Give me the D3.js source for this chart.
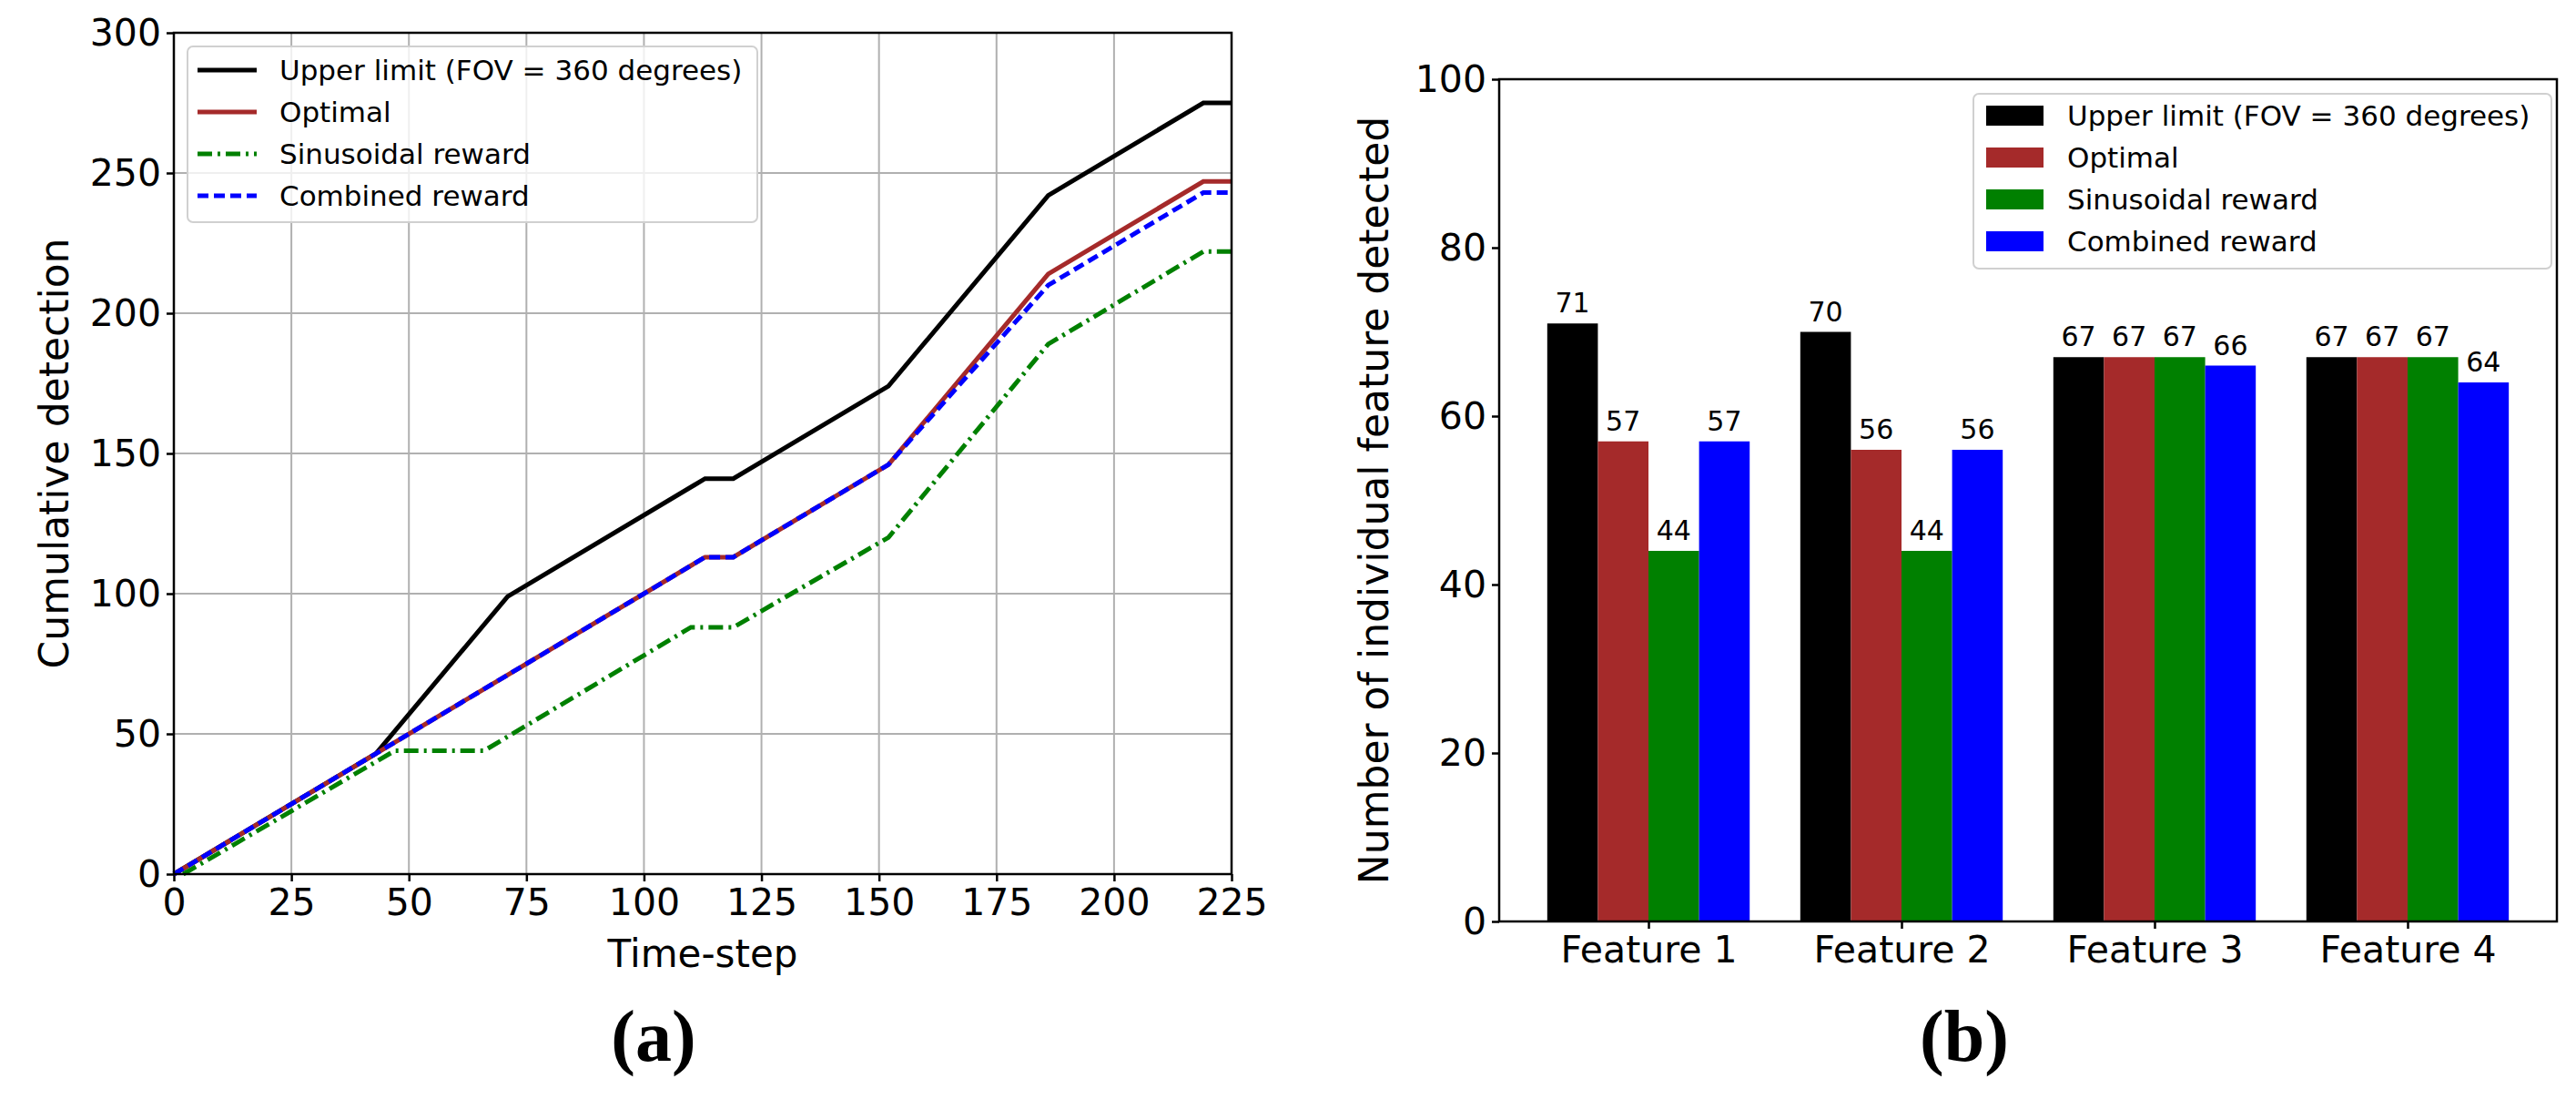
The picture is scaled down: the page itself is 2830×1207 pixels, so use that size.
<!DOCTYPE html>
<html><head><meta charset="utf-8">
<script src="https://cdn.jsdelivr.net/npm/d3@7"></script>
<style>body{margin:0;background:#fff}text{font-family:"DejaVu Sans",sans-serif}</style>
</head><body>
<svg id="c" width="2830" height="1207"></svg>
<script>
// ----- Data: left chart (cumulative detection) -----
const seriesNames = ["Upper limit (FOV = 360 degrees)","Optimal","Sinusoidal reward","Combined reward"];
const seriesColors = ["#000000","#a52a2a","#008000","#0000ff"];
const seriesDash = [null,null,"16,6,3,6","12,6"];
const upperX = [0,43,71,113,119,152,186,219,225];
const upperY = [0,43,99,141,141,174,242,275,275];
const optimalX = [0,43,113,119,152,186,219,225];
const optimalY = [0,43,113,113,146,214,247,247];
const sinusX = [2,47,66,110,119,152,186,219,225];
const sinusY = [0,44,44,88,88,120,189,222,222];
const combinedX = [0,43,113,119,152,186,219,225];
const combinedY = [0,43,113,113,146,210,243,243];
const xTicksA = [0,25,50,75,100,125,150,175,200,225];
const yTicksA = [0,50,100,150,200,250,300];
// ----- Data: right chart (bars) -----
const features = ["Feature 1","Feature 2","Feature 3","Feature 4"];
const upperVals = [71,70,67,67];
const optimalVals = [57,56,67,67];
const sinusVals = [44,44,67,67];
const combinedVals = [57,56,66,64];
const yTicksB = [0,20,40,60,80,100];

const svg = d3.select("#c");
const FS = 41;

// ================= Chart (a) =================
const A = {l:191,r:1353,t:36,b:960};
const xA = d3.scaleLinear().domain([0,225]).range([A.l,A.r]);
const yA = d3.scaleLinear().domain([0,300]).range([A.b,A.t]);
const gA = svg.append("g");
gA.append("g").selectAll("line").data(xTicksA).join("line")
  .attr("x1",d=>xA(d)).attr("x2",d=>xA(d)).attr("y1",A.t).attr("y2",A.b)
  .attr("stroke","#b0b0b0").attr("stroke-width",2);
gA.append("g").selectAll("line").data(yTicksA).join("line")
  .attr("y1",d=>yA(d)).attr("y2",d=>yA(d)).attr("x1",A.l).attr("x2",A.r)
  .attr("stroke","#b0b0b0").attr("stroke-width",2);
const ax = gA.append("g").attr("transform",`translate(0,${A.b})`)
  .call(d3.axisBottom(xA).tickValues(xTicksA).tickSize(8).tickPadding(8));
const ay = gA.append("g").attr("transform",`translate(${A.l},0)`)
  .call(d3.axisLeft(yA).tickValues(yTicksA).tickSize(8).tickPadding(6));
[ax,ay].forEach(a=>{a.select(".domain").remove();a.selectAll("line").attr("stroke","#000").attr("stroke-width",2.5);
  a.selectAll("text").attr("font-size",FS).attr("fill","#000").style("font-family","DejaVu Sans");});
const linesData = [[upperX,upperY],[optimalX,optimalY],[sinusX,sinusY],[combinedX,combinedY]];
const line = d3.line().x(d=>xA(d[0])).y(d=>yA(d[1]));
[0,1,2,3].forEach(i=>{
  const pts = linesData[i][0].map((x,j)=>[x,linesData[i][1][j]]);
  gA.append("path").attr("d",line(pts)).attr("fill","none").attr("stroke",seriesColors[i])
    .attr("stroke-width",5).attr("stroke-dasharray",seriesDash[i]);
});
gA.append("rect").attr("x",A.l).attr("y",A.t).attr("width",A.r-A.l).attr("height",A.b-A.t)
  .attr("fill","none").attr("stroke","#000").attr("stroke-width",2.5);
// legend a
const legA = gA.append("g");
legA.append("rect").attr("x",206).attr("y",51).attr("width",626).attr("height",193).attr("rx",6)
  .attr("fill","rgba(255,255,255,0.8)").attr("stroke","#d0d0d0").attr("stroke-width",2);
seriesNames.forEach((n,i)=>{
  const y = 77+i*46;
  legA.append("line").attr("x1",217).attr("x2",282).attr("y1",y).attr("y2",y)
    .attr("stroke",seriesColors[i]).attr("stroke-width",5).attr("stroke-dasharray",seriesDash[i]);
  legA.append("text").attr("x",307).attr("y",y+11).attr("font-size",31).text(n);
});
gA.append("text").attr("x",(A.l+A.r)/2).attr("y",1062).attr("text-anchor","middle").attr("font-size",42).text("Time-step");
gA.append("text").attr("transform",`translate(75,${(A.t+A.b)/2}) rotate(-90)`).attr("text-anchor","middle").attr("font-size",44).text("Cumulative detection");
gA.append("text").attr("x",718).attr("y",1165).attr("text-anchor","middle").attr("font-size",80).attr("font-weight","bold")
  .style("font-family","'Liberation Serif',serif").text("(a)");

// ================= Chart (b) =================
const B = {l:1647,r:2809,t:87,b:1012};
const xB = d3.scaleLinear().domain([-0.59,3.59]).range([B.l,B.r]);
const yB = d3.scaleLinear().domain([0,100]).range([B.b,B.t]);
const gB = svg.append("g");
const barSeries = [upperVals,optimalVals,sinusVals,combinedVals];
const bw = 0.2;
barSeries.forEach((vals,si)=>{
  const off = (si-1.5)*bw;
  gB.append("g").selectAll("rect").data(vals).join("rect")
    .attr("x",(d,i)=>xB(i+off-bw/2)).attr("width",xB(bw)-xB(0))
    .attr("y",d=>yB(d)).attr("height",d=>yB(0)-yB(d)).attr("fill",seriesColors[si]);
  gB.append("g").selectAll("text").data(vals).join("text")
    .attr("x",(d,i)=>xB(i+off)).attr("y",d=>yB(d)-12).attr("text-anchor","middle")
    .attr("font-size",30).text(d=>d);
});
const bx = gB.append("g").attr("transform",`translate(0,${B.b})`)
  .call(d3.axisBottom(xB).tickValues([0,1,2,3]).tickFormat(i=>features[i]).tickSize(8).tickPadding(8));
const by = gB.append("g").attr("transform",`translate(${B.l},0)`)
  .call(d3.axisLeft(yB).tickValues(yTicksB).tickSize(8).tickPadding(6));
[bx,by].forEach(a=>{a.select(".domain").remove();a.selectAll("line").attr("stroke","#000").attr("stroke-width",2.5);
  a.selectAll("text").attr("font-size",FS).attr("fill","#000").style("font-family","DejaVu Sans");});
gB.append("rect").attr("x",B.l).attr("y",B.t).attr("width",B.r-B.l).attr("height",B.b-B.t)
  .attr("fill","none").attr("stroke","#000").attr("stroke-width",2.5);
const legB = gB.append("g");
legB.append("rect").attr("x",2168).attr("y",103).attr("width",635).attr("height",192).attr("rx",6)
  .attr("fill","rgba(255,255,255,0.8)").attr("stroke","#d0d0d0").attr("stroke-width",2);
seriesNames.forEach((n,i)=>{
  const y = 127+i*46;
  legB.append("rect").attr("x",2182).attr("y",y-11).attr("width",63).attr("height",22).attr("fill",seriesColors[i]);
  legB.append("text").attr("x",2271).attr("y",y+11).attr("font-size",31).text(n);
});
gB.append("text").attr("transform",`translate(1525,${(B.t+B.b)/2}) rotate(-90)`).attr("text-anchor","middle").attr("font-size",44).text("Number of individual feature detected");
gB.append("text").attr("x",2158).attr("y",1165).attr("text-anchor","middle").attr("font-size",80).attr("font-weight","bold")
  .style("font-family","'Liberation Serif',serif").text("(b)");
</script>
</body></html>
